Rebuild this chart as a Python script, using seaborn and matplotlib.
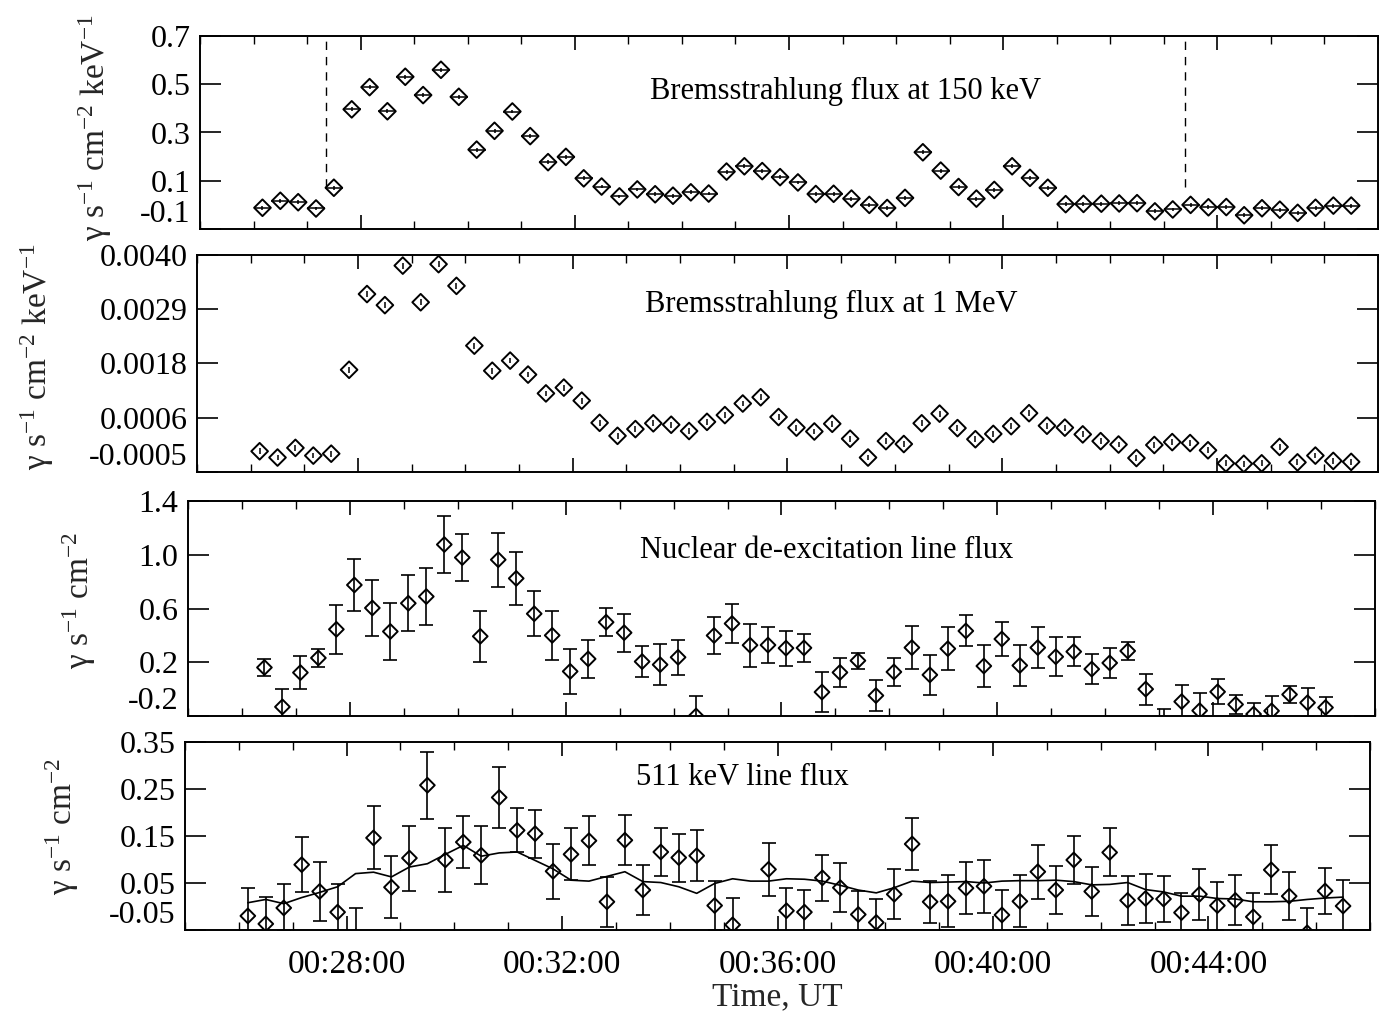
import numpy as np
import pandas as pd
import matplotlib
matplotlib.use("Agg")
import matplotlib.pyplot as plt
import seaborn as sns
from matplotlib.ticker import FixedLocator, MultipleLocator

# ---------------- data ----------------
# time bins (00:MM:SS, UT) -- 20 s bins
times_a = ("26:10 26:30 26:50 27:10 27:30 27:50 28:10 28:30 28:50 29:10 29:30 29:50 "
           "30:10 30:30 30:50 31:10 31:30 31:50 32:10 32:30 32:50 33:10 33:30 33:50 "
           "34:10 34:30 34:50 35:10 35:30 35:50 36:10 36:30 36:50 37:10 37:30 37:50 "
           "38:10 38:30 38:50 39:10 39:30 39:50 40:10 40:30 40:50 41:10 41:30 41:50 "
           "42:10 42:30 42:50 43:10 43:30 43:50 44:10 44:30 44:50 45:10 45:30 45:50 "
           "46:10 46:30").split()
times_b = ("26:25 26:45 27:05 27:25 27:45 28:05 28:25 28:45 29:05 29:25 29:45 "
           "30:05 30:25 30:45 31:05 31:25 31:45 32:05 32:25 32:45 33:05 33:25 33:45 "
           "34:05 34:25 34:45 35:05 35:25 35:45 36:05 36:25 36:45 37:05 37:25 37:45 "
           "38:05 38:25 38:45 39:05 39:25 39:45 40:05 40:25 40:45 41:05 41:25 41:45 "
           "42:05 42:25 42:45 43:05 43:25 43:45 44:05 44:25 44:45 45:05 45:25 45:45 "
           "46:05 46:25").split()

# Bremsstrahlung flux at 150 keV
flux150 = [-0.012, 0.017, 0.011, -0.015, 0.071, 0.396, 0.488, 0.388, 0.531, 0.455,
           0.560, 0.448, 0.229, 0.307, 0.387, 0.285, 0.177, 0.199, 0.110, 0.076,
           0.035, 0.064, 0.044, 0.038, 0.052, 0.047, 0.138, 0.160, 0.140, 0.115,
           0.093, 0.045, 0.046, 0.026, 0.000, -0.013, 0.029, 0.218, 0.142, 0.074,
           0.026, 0.062, 0.160, 0.112, 0.071, 0.003, 0.004, 0.005, 0.006, 0.007,
           -0.027, -0.019, 0.000, -0.010, -0.009, -0.043, -0.014, -0.020, -0.033, -0.012,
           -0.003, -0.003]
flux150_err = 0.008

# Bremsstrahlung flux at 1 MeV
flux1mev = [-0.00007, -0.00020, 0.00000, -0.00016, -0.00012, 0.00162, 0.00319, 0.00296, 0.00378, 0.00302,
            0.00381, 0.00336, 0.00212, 0.00160, 0.00181, 0.00152, 0.00113, 0.00125, 0.00098, 0.00052,
            0.00025, 0.00039, 0.00051, 0.00048, 0.00035, 0.00054, 0.00068, 0.00092, 0.00105, 0.00064,
            0.00042, 0.00034, 0.00050, 0.00019, -0.00020, 0.00014, 0.00008, 0.00051, 0.00071, 0.00041,
            0.00018, 0.00029, 0.00045, 0.00072, 0.00046, 0.00042, 0.00028, 0.00014, 0.00007, -0.00021,
            0.00006, 0.00012, 0.00010, -0.00005, -0.00032, -0.00033, -0.00032, 0.00002, -0.00030, -0.00016,
            -0.00027, -0.00029]
flux1mev_err = 0.00006

# Nuclear de-excitation line flux
nuclear = [0.161, -0.132, 0.123, 0.232, 0.445, 0.775, 0.604, 0.429, 0.639, 0.689,
           1.076, 0.979, 0.393, 0.963, 0.824, 0.561, 0.400, 0.132, 0.225, 0.498,
           0.420, 0.205, 0.182, 0.237, -0.200, 0.399, 0.488, 0.327, 0.328, 0.305,
           0.307, -0.022, 0.124, 0.212, -0.048, 0.128, 0.309, 0.106, 0.301, 0.433,
           0.172, 0.373, 0.176, 0.309, 0.241, 0.279, 0.149, 0.195, 0.284, 0.000,
           -0.300, -0.093, -0.160, -0.020, -0.114, -0.186, -0.162, -0.040, -0.101, -0.137,
           -0.330]
nuclear_err = [0.064, 0.130, 0.122, 0.068, 0.184, 0.194, 0.209, 0.209, 0.209, 0.209,
               0.213, 0.177, 0.188, 0.200, 0.198, 0.169, 0.185, 0.170, 0.142, 0.104,
               0.140, 0.117, 0.154, 0.132, 0.150, 0.140, 0.145, 0.159, 0.136, 0.130,
               0.103, 0.151, 0.106, 0.060, 0.118, 0.106, 0.162, 0.146, 0.160, 0.115,
               0.156, 0.127, 0.150, 0.154, 0.146, 0.109, 0.109, 0.110, 0.069, 0.116,
               0.150, 0.120, 0.128, 0.092, 0.068, 0.083, 0.108, 0.063, 0.108, 0.076,
               0.120]

# 511 keV line flux
line511 = [-0.020, -0.037, -0.003, 0.089, 0.032, -0.012, -0.065, 0.146, 0.041, 0.103,
           0.258, 0.099, 0.137, 0.109, 0.232, 0.162, 0.155, 0.075, 0.111, 0.140,
           0.010, 0.141, 0.035, 0.116, 0.104, 0.108, 0.002, -0.039, np.nan, 0.079,
           -0.009, -0.012, 0.061, 0.040, -0.017, -0.034, 0.026, 0.133, 0.010, 0.011,
           0.039, 0.043, -0.018, 0.011, 0.074, 0.035, 0.099, 0.032, 0.115, 0.013,
           0.017, 0.016, -0.013, 0.026, 0.002, 0.013, -0.022, 0.078, 0.022, -0.056,
           0.033, 0.001]
line511_err = [0.060, 0.058, 0.050, 0.059, 0.062, 0.059, 0.062, 0.067, 0.066, 0.069,
               0.071, 0.068, 0.055, 0.062, 0.064, 0.047, 0.051, 0.059, 0.055, 0.052,
               0.053, 0.053, 0.053, 0.051, 0.051, 0.054, 0.053, 0.057, np.nan, 0.056,
               0.049, 0.047, 0.049, 0.052, 0.049, 0.050, 0.053, 0.055, 0.045, 0.055,
               0.055, 0.056, 0.054, 0.055, 0.057, 0.051, 0.052, 0.053, 0.051, 0.052,
               0.052, 0.048, 0.042, 0.054, 0.051, 0.053, 0.050, 0.052, 0.051, 0.053,
               0.049, 0.055]
line511_model = [0.008, 0.015, 0.006, 0.019, 0.030, 0.042, 0.070, 0.073, 0.063, 0.084,
                 0.091, 0.111, 0.130, 0.107, 0.114, 0.116, 0.098, 0.080, 0.056, 0.054,
                 0.064, 0.074, 0.053, 0.051, 0.042, 0.028, 0.049, 0.059, 0.054, 0.054,
                 0.059, 0.058, 0.054, 0.045, 0.035, 0.029, 0.040, 0.054, 0.051, 0.052,
                 0.053, 0.050, 0.054, 0.055, 0.055, 0.056, 0.053, 0.046, 0.047, 0.051,
                 0.036, 0.031, 0.022, 0.022, 0.017, 0.016, 0.010, 0.010, 0.011, 0.015,
                 0.018, 0.020]

# interval markers (dashed lines) in top panel
interval_marks = ["27:21", "43:24"]
bin_halfwidth_s = 10

# axes ticks / labels
x_ticks = ["00:28:00", "00:32:00", "00:36:00", "00:40:00", "00:44:00"]
x_limits = ["00:25:00", "00:47:00"]
y1_ticks = [-0.1, 0.1, 0.3, 0.5, 0.7]
y1_labels = ["-0.1", "0.1", "0.3", "0.5", "0.7"]
y2_ticks = [-0.0005, 0.000625, 0.00175, 0.002875, 0.0040]
y2_labels = ["-0.0005", "0.0006", "0.0018", "0.0029", "0.0040"]
y3_ticks = [-0.2, 0.2, 0.6, 1.0, 1.4]
y3_labels = ["-0.2", "0.2", "0.6", "1.0", "1.4"]
y4_ticks = [-0.05, 0.05, 0.15, 0.25, 0.35]
y4_labels = ["-0.05", "0.05", "0.15", "0.25", "0.35"]

titles = ["Bremsstrahlung flux at 150 keV", "Bremsstrahlung flux at 1 MeV",
          "Nuclear de-excitation line flux", "511 keV line flux"]
ylab_keV = r"γ s$^{-1}$ cm$^{-2}$ keV$^{-1}$"
ylab_cm = r"γ s$^{-1}$ cm$^{-2}$"
xlabel = "Time, UT"


def to_min(s):
    parts = [int(p) for p in s.split(":")]
    if len(parts) == 2:
        parts = [0] + parts
    h, m, sec = parts
    return h * 60 + m + sec / 60.0


ta = [to_min(s) for s in times_a]
tb = [to_min(s) for s in times_b]

df1 = pd.DataFrame({"t": ta, "v": flux150})
df2 = pd.DataFrame({"t": ta, "v": flux1mev})
df3 = pd.DataFrame({"t": tb, "v": nuclear, "e": nuclear_err})
df4 = pd.DataFrame({"t": ta, "v": line511, "e": line511_err, "m": line511_model})

# ---------------- style ----------------
sns.set_theme(style="ticks")
plt.rcParams.update({
    "font.family": ["Liberation Serif", "DejaVu Serif"],
    "mathtext.fontset": "custom",
    "mathtext.rm": "Liberation Serif",
    "mathtext.it": "Liberation Serif:italic",
    "mathtext.bf": "Liberation Serif:bold",
    "axes.linewidth": 1.4,
    "axes.edgecolor": "black",
    "text.color": "black",
    "xtick.color": "black",
    "ytick.color": "black",
})

FS = 23
fig = plt.figure(figsize=(13.79, 10.21), dpi=100)

W, H = 1379.0, 1021.0
def rect(left, right, top, bottom):
    return [left / W, 1 - bottom / H, (right - left) / W, (bottom - top) / H]

ax1 = fig.add_axes(rect(200, 1378, 36, 229))
ax2 = fig.add_axes(rect(197, 1378, 255, 472))
ax3 = fig.add_axes(rect(188, 1375, 501, 716))
ax4 = fig.add_axes(rect(185, 1370, 742, 930))
axes = [ax1, ax2, ax3, ax4]


def diamonds(ax, df, ms):
    sns.scatterplot(data=df, x="t", y="v", ax=ax, marker="D", s=ms ** 2,
                    color="black", linewidth=1.4, legend=False, zorder=3)
    coll = ax.collections[-1]
    coll.set_facecolor("none")
    coll.set_edgecolor("black")


# panel 1
xerr_min = bin_halfwidth_s / 60.0
ax1.errorbar(df1["t"], df1["v"], yerr=flux150_err, xerr=xerr_min, fmt="none",
             ecolor="black", elinewidth=1.1, capsize=0, zorder=2)
diamonds(ax1, df1, 8.5)
for mk in interval_marks:
    ax1.axvline(to_min(mk), ymin=0.22, ymax=1.0, color="black", lw=1.0,
                ls=(0, (6, 5)), zorder=1)

# panel 2
ax2.errorbar(df2["t"], df2["v"], yerr=flux1mev_err, fmt="none",
             ecolor="black", elinewidth=1.1, capsize=0, zorder=2)
diamonds(ax2, df2, 8.5)

# panel 3
ax3.errorbar(df3["t"], df3["v"], yerr=df3["e"], fmt="none", ecolor="black",
             elinewidth=1.2, capsize=5, capthick=1.2, zorder=2)
diamonds(ax3, df3, 7.5)

# panel 4
sns.lineplot(data=df4, x="t", y="m", ax=ax4, color="black", lw=1.2,
             estimator=None, legend=False, zorder=2)
ax4.errorbar(df4["t"], df4["v"], yerr=df4["e"], fmt="none", ecolor="black",
             elinewidth=1.2, capsize=5, capthick=1.2, zorder=2)
diamonds(ax4, df4, 7.5)

yt = [(y1_ticks, y1_labels), (y2_ticks, y2_labels), (y3_ticks, y3_labels), (y4_ticks, y4_labels)]
xt = [to_min(s) for s in x_ticks]
for ax, (ticks, labels) in zip(axes, yt):
    ax.set_xlim(to_min(x_limits[0]), to_min(x_limits[1]))
    ax.set_ylim(ticks[0], ticks[-1])
    ax.xaxis.set_major_locator(FixedLocator(xt))
    ax.xaxis.set_minor_locator(MultipleLocator(1))
    ax.set_yticks(ticks)
    ax.set_yticklabels(labels)
    ax.tick_params(axis="x", which="major", direction="in", length=10, width=1.2,
                   top=True, bottom=True)
    ax.tick_params(axis="x", which="minor", direction="in", length=6, width=1.0,
                   top=True, bottom=True)
    ax.tick_params(axis="y", which="major", direction="in", length=15, width=1.2,
                   left=True, right=True, labelsize=FS, pad=7)
    ax.tick_params(axis="y", which="minor", left=False, right=False)
    ax.set_xlabel("")
    ax.set_ylabel("")
    for sp in ax.spines.values():
        sp.set_visible(True)
        sp.set_linewidth(1.4)
    # lowest label nudged upward as in the original
    ax.yaxis.get_major_ticks()[0].label1.set_verticalalignment("bottom")

for ax in axes[:3]:
    ax.tick_params(axis="x", which="both", labelbottom=False)

ax4.set_xticklabels(x_ticks)
ax4.tick_params(axis="x", which="major", labelsize=FS + 1, pad=14)
ax4.set_xlabel(xlabel, fontsize=FS + 1, labelpad=1)

# titles inside panels
title_pos = [(0.382, 0.71), (0.379, 0.77), (0.381, 0.772), (0.381, 0.81)]
for ax, ttl, (tx, ty) in zip(axes, titles, title_pos):
    ax.text(tx, ty, ttl, transform=ax.transAxes, fontsize=FS - 1,
            ha="left", va="center")

# y-axis labels
ylabels = [ylab_keV, ylab_keV, ylab_cm, ylab_cm]
ylab_pos = [(-0.089, 0.523), (-0.135, 0.53), (-0.092, 0.535), (-0.104, 0.553)]
for ax, lab, (lx, ly) in zip(axes, ylabels, ylab_pos):
    ax.set_ylabel(lab, fontsize=FS + 1)
    ax.yaxis.label.set_verticalalignment("center")
    ax.yaxis.set_label_coords(lx, ly)

fig.savefig("out.png", dpi=100, facecolor="white")
